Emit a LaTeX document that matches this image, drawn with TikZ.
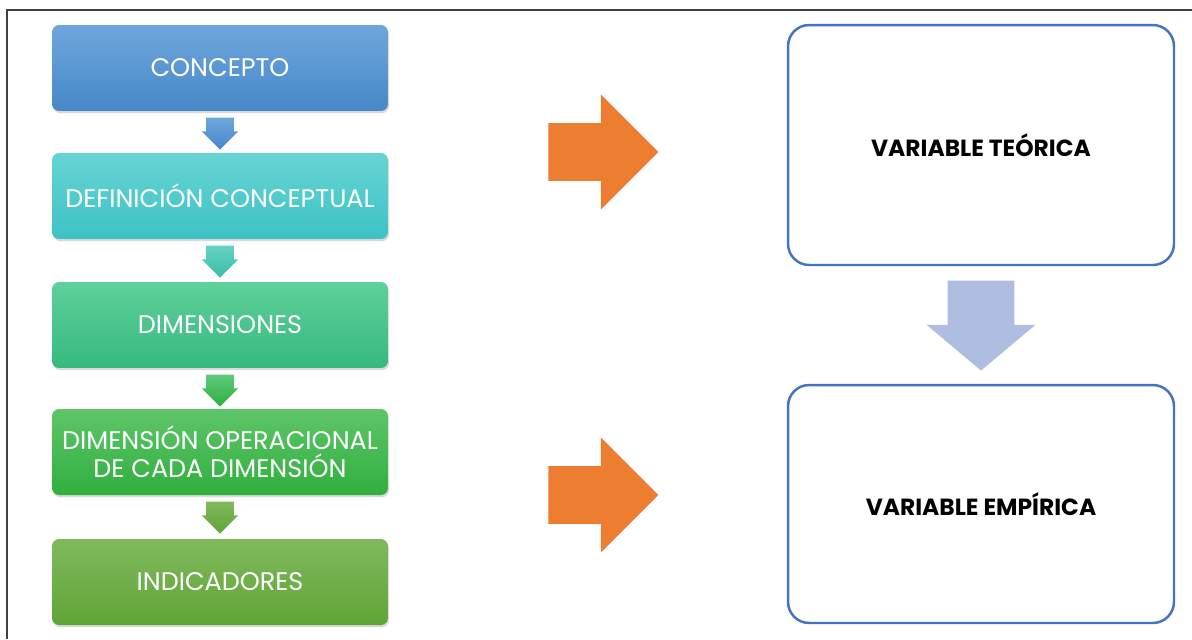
\documentclass[tikz,border=0pt]{standalone}
\usepackage{xcolor}
\usepackage{fontspec}
\setmainfont{Poppins}
\usepackage{tikz}
\usetikzlibrary{shapes,arrows,positioning,calc,shadows}

\definecolor{azulA}{HTML}{6EA6DC}
\definecolor{azulB}{HTML}{4788C9}
\definecolor{turqA}{HTML}{68D4D4}
\definecolor{turqB}{HTML}{3CC2C4}
\definecolor{mentaA}{HTML}{5FD09A}
\definecolor{mentaB}{HTML}{36B97F}
\definecolor{verdeA}{HTML}{5EC56A}
\definecolor{verdeB}{HTML}{30AF3E}
\definecolor{olivoA}{HTML}{80B95C}
\definecolor{olivoB}{HTML}{60A437}
\definecolor{naranja}{HTML}{ED7D31}
\definecolor{lavanda}{HTML}{AFBDE0}
\definecolor{bordeAzul}{HTML}{4472C4}

\begin{document}
\begin{tikzpicture}[x=0.02cm,y=-0.02cm,
    paso/.style={rounded corners=4pt, minimum width=6.72cm, minimum height=1.72cm, inner sep=0pt,
      text=white, align=center, font=\fontsize{14.5}{16}\selectfont,
      drop shadow={opacity=0.3,shadow xshift=0.6pt,shadow yshift=-1.2pt}},
    flechita/.style={single arrow, shape border rotate=270, anchor=tail, inner xsep=0.27cm, inner ysep=0pt,
      minimum height=0.64cm, minimum width=0.72cm, single arrow head extend=0.09cm},
    flechaN/.style={single arrow, fill=naranja, anchor=tail, inner ysep=0.57cm, inner xsep=0pt,
      minimum height=2.2cm, minimum width=2.28cm, single arrow head extend=0.57cm},
    varcaja/.style={draw=bordeAzul, line width=1.4pt, rounded corners=12pt,
      minimum width=7.72cm, font=\bfseries\fontsize{13.3}{16}\selectfont}]
  \useasboundingbox (0,0) rectangle (1192,639);
  % marco
  \draw[line width=0.8pt, black!75] (7,639) -- (7,10) -- (1192,10);

  % columna izquierda
  \node[paso, top color=azulA, bottom color=azulB] (concepto) at (220,68) {CONCEPTO};
  \node[paso, top color=turqA, bottom color=turqB] (definicion) at (220,196) {DEFINICIÓN CONCEPTUAL};
  \node[paso, top color=mentaA, bottom color=mentaB] (dimensiones) at (220,325) {DIMENSIONES};
  \node[paso, top color=verdeA, bottom color=verdeB] (operacional) at (220,452) {DIMENSIÓN OPERACIONAL\\DE CADA DIMENSIÓN};
  \node[paso, top color=olivoA, bottom color=olivoB] (indicadores) at (220,582) {INDICADORES};

  \node[flechita, top color=azulA, bottom color=azulB] (f1) at ($(concepto.south)+(0,6)$) {};
  \node[flechita, top color=turqA!70!mentaA, bottom color=turqB!60!mentaB] (f2) at ($(definicion.south)+(0,6)$) {};
  \node[flechita, top color=mentaA!40!verdeA, bottom color=verdeB] (f3) at ($(dimensiones.south)+(0,6)$) {};
  \node[flechita, top color=olivoA, bottom color=olivoB] (f4) at ($(operacional.south)+(0,6)$) {};

  % flechas naranjas
  \node[flechaN] (n1) at (548,152) {};
  \node[flechaN] (n2) at (548,495) {};

  % columna derecha
  \node[varcaja, minimum height=4.8cm] (teorica) at (981,145) {VARIABLE TEÓRICA};
  \node[varcaja, minimum height=4.76cm] (empirica) at (981,504) {VARIABLE EMPÍRICA};
  \node[single arrow, shape border rotate=270, anchor=tail, fill=lavanda, inner xsep=0.66cm, inner ysep=0pt,
    minimum height=1.8cm, minimum width=2.16cm, single arrow head extend=0.42cm,
    single arrow tip angle=100] (f5) at ($(teorica.south)+(0,14)$) {};
\end{tikzpicture}
\end{document}
